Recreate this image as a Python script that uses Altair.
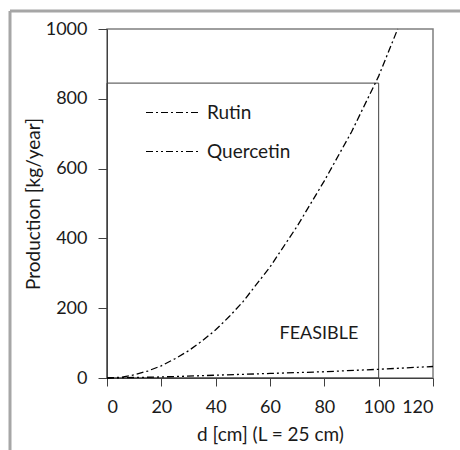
import altair as alt
import pandas as pd

# Rutin production (kg/year) vs d (cm)
rutin_d = [0, 5, 10, 15, 20, 25, 30, 35, 40, 45, 50, 60, 70, 80, 90, 100, 107]
rutin_p = [0, 2, 9, 20, 35, 55, 78, 106, 138, 176, 218, 318, 435, 565, 705, 865, 1000]

# Quercetin production (kg/year) vs d (cm)
querc_d = [0, 20, 40, 60, 80, 100, 120]
querc_p = [0, 3, 8, 13, 18, 25, 33]

# Feasible region bounds
feas_d = [0, 100]
feas_p = [0, 845]

x_ticks = [0, 20, 40, 60, 80, 100, 120]
y_ticks = [0, 200, 400, 600, 800, 1000]

series = ["Rutin", "Quercetin"]
dashes = [[7, 3, 2, 3], [7, 3, 2, 3, 2, 3]]

rows = []
for d, p in zip(rutin_d, rutin_p):
    rows.append({"d": d, "p": p, "series": "Rutin"})
for d, p in zip(querc_d, querc_p):
    rows.append({"d": d, "p": p, "series": "Quercetin"})
df = pd.DataFrame(rows)

FONT = "Lato"
TXT = "#1a1a1a"
AX = "#404040"
FS = 19
TFS = 18

xscale = alt.Scale(domain=[0, 120], nice=False, zero=False)
yscale = alt.Scale(domain=[0, 1000], nice=False, zero=False)

xaxis = alt.Axis(values=x_ticks, grid=False, tickSize=8, labelPadding=12,
                 format="d",
                 title="d [cm] (L = 25 cm)", titleX=163, titleY=56,
                 titleAlign="center", titleBaseline="middle",
                 domainColor=AX, tickColor=AX, labelColor=TXT, titleColor=TXT,
                 labelFontSize=TFS, titleFontSize=FS, labelFont=FONT, titleFont=FONT,
                 titleFontWeight="normal")
yaxis = alt.Axis(values=y_ticks, grid=False, tickSize=9, labelPadding=11,
                 format="d",
                 title="Production [kg/year]", titleX=-74, titleY=174.5,
                 titleAngle=-90, titleAlign="center", titleBaseline="middle",
                 domainColor=AX, tickColor=AX, labelColor=TXT, titleColor=TXT,
                 labelFontSize=TFS, titleFontSize=FS, labelFont=FONT, titleFont=FONT,
                 titleFontWeight="normal")

lines = alt.Chart(df).mark_line(color="black", strokeWidth=1.3).encode(
    x=alt.X("d:Q", scale=xscale, axis=xaxis),
    y=alt.Y("p:Q", scale=yscale, axis=yaxis),
    strokeDash=alt.StrokeDash(
        "series:N",
        scale=alt.Scale(domain=series, range=dashes),
        legend=alt.Legend(title=None, orient="none", legendX=38, legendY=55,
                          symbolType="stroke", symbolSize=3025,
                          symbolStrokeColor="black", symbolStrokeWidth=1.2,
                          labelFontSize=FS, labelFont=FONT, labelColor=TXT,
                          labelOffset=5, rowPadding=-26, padding=0),
    ),
    detail="series:N",
)

feas_df = pd.DataFrame({"d0": [feas_d[0]], "d1": [feas_d[1]],
                        "p0": [feas_p[0]], "p1": [feas_p[1]]})
feas = alt.Chart(feas_df).mark_rect(filled=False, stroke=AX, strokeWidth=1).encode(
    x=alt.X("d0:Q", scale=xscale), x2="d1:Q",
    y=alt.Y("p0:Q", scale=yscale), y2="p1:Q",
)

label_df = pd.DataFrame({"d": [78], "p": [126], "t": ["FEASIBLE"]})
label = alt.Chart(label_df).mark_text(font=FONT, fontSize=18, color=TXT,
                                      align="center", baseline="middle").encode(
    x=alt.X("d:Q", scale=xscale), y=alt.Y("p:Q", scale=yscale), text="t:N")

one = alt.Data(values=[{}])
frame_top = alt.Chart(one).mark_rule(color="#a6a6a6", strokeWidth=3).encode(
    x=alt.value(-97), x2=alt.value(353), y=alt.value(-18))
frame_left = alt.Chart(one).mark_rule(color="#a6a6a6", strokeWidth=3).encode(
    x=alt.value(-97), y=alt.value(-18), y2=alt.value(421))

chart = alt.layer(feas, lines, label, frame_top, frame_left).properties(
    width=326, height=349,
    autosize=alt.AutoSizeParams(type="none"),
    padding={"left": 107, "top": 29, "right": 27, "bottom": 72},
    background="white",
).configure_view(stroke="#7f7f7f", strokeWidth=1.5)

chart.save("out.html", embed_options={"renderer": "svg", "actions": False})
